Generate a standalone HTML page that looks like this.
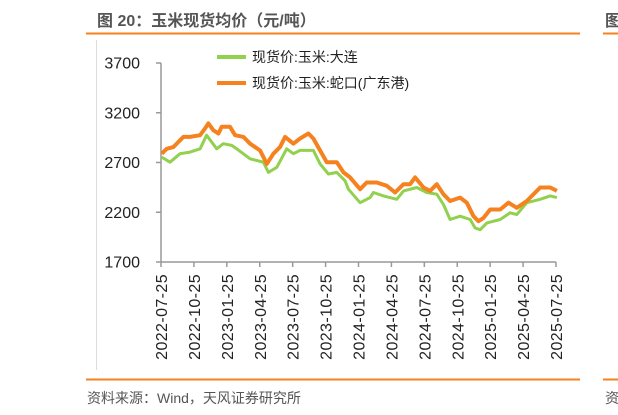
<!DOCTYPE html>
<html><head><meta charset="utf-8">
<style>
body{margin:0;width:618px;height:415px;background:#fff;overflow:hidden;font-family:"Liberation Sans","Noto Sans CJK SC",sans-serif;}
svg{position:absolute;left:0;top:0}
</style></head>
<body>
<svg width="618" height="415">
  <text x="97" y="26" font-size="16" font-weight="bold" fill="#555">图 20：玉米现货均价（元/吨）</text>
  <line x1="86" y1="33.5" x2="580" y2="33.5" stroke="#F5821F" stroke-width="2"/>
  <line x1="603" y1="33.5" x2="618" y2="33.5" stroke="#F5821F" stroke-width="2"/>
  <text x="605" y="26" font-size="16" font-weight="bold" fill="#555">图</text>
  <line x1="96.5" y1="40" x2="96.5" y2="370" stroke="#ddd" stroke-width="1"/>
  <line x1="86" y1="379.5" x2="580" y2="379.5" stroke="#F5821F" stroke-width="2"/>
  <line x1="603" y1="379.5" x2="618" y2="379.5" stroke="#F5821F" stroke-width="2"/>
  <text x="87" y="403" font-size="14" fill="#555">资料来源：Wind，天风证券研究所</text>
  <text x="605" y="403" font-size="14" fill="#555">资</text>
  <g id="plot"></g>
  <g>
    <line x1="217" y1="57" x2="246" y2="57" stroke="#92D050" stroke-width="4"/>
    <text x="252" y="62" font-size="14" fill="#222">现货价:玉米:大连</text>
    <line x1="217" y1="83" x2="246" y2="83" stroke="#F5821F" stroke-width="4"/>
    <text x="252" y="88" font-size="14" fill="#222">现货价:玉米:蛇口(广东港)</text>
  </g>
</svg>
<script>
const xTickLabels=["2022-07-25","2022-10-25","2023-01-25","2023-04-25","2023-07-25","2023-10-25","2024-01-25","2024-04-25","2024-07-25","2024-10-25","2025-01-25","2025-04-25","2025-07-25"];
const yTicks=[1700,2200,2700,3200,3700];
const shekouMonths=[0.06,0.52,1.12,1.58,2.04,2.64,3.56,4.01,4.32,4.77,5.23,5.53,6.29,6.75,7.51,8.12,9.03,9.64,10.24,10.85,11.31,12.07,12.67,13.43,13.89,14.5,15.11,16.02,16.63,17.23,18.15,18.75,19.67,20.58,21.34,22.1,22.7,23.16,23.92,24.53,25.14,25.74,26.35,27.26,27.87,28.48,28.94,29.39,30.0,30.91,31.67,32.43,33.34,34.56,35.47,36.08];
const shekouValues=[2788,2838,2855,2906,2957,2957,2974,3042,3093,3025,2991,3059,3059,2974,2957,2889,2821,2686,2788,2855,2957,2889,2940,2991,2940,2821,2703,2703,2601,2550,2432,2499,2499,2466,2398,2482,2482,2550,2449,2415,2482,2381,2313,2347,2296,2160,2110,2143,2228,2228,2296,2245,2313,2449,2449,2415];
const dalianMonths=[0.06,0.82,1.73,2.64,3.56,4.16,5.08,5.68,6.44,6.9,8.12,9.33,9.79,10.55,11.46,12.07,12.67,13.89,14.5,15.26,16.02,16.78,17.08,18.15,19.06,19.36,20.27,21.49,22.1,23.31,24.22,25.14,25.74,26.35,27.26,28.18,28.63,29.09,29.7,30.91,31.82,32.43,33.34,34.56,35.47,36.08];
const dalianValues=[2754,2703,2788,2805,2838,2974,2838,2889,2872,2838,2737,2703,2601,2652,2838,2788,2822,2822,2686,2584,2601,2516,2432,2296,2347,2398,2364,2330,2415,2449,2398,2381,2279,2127,2160,2127,2042,2025,2093,2127,2194,2177,2296,2330,2364,2347];

const X0=161,X1=556,Y0=262,Y1=63,NS="http://www.w3.org/2000/svg";
const xs=m=>X0+(X1-X0)*m/36;
const ys=v=>Y0-(Y0-Y1)*(v-1700)/2000;
const g=document.getElementById('plot');
function mk(t,a){const e=document.createElementNS(NS,t);for(const k in a)e.setAttribute(k,a[k]);return e;}
let ax=mk('line',{x1:X0,y1:Y1,x2:X0,y2:Y0,stroke:'#999','stroke-width':1.5});


g.appendChild(ax);
let bx=mk('line',{x1:X0,y1:Y0,x2:X1,y2:Y0,stroke:'#999','stroke-width':1.5});


g.appendChild(bx);
yTicks.forEach(v=>{
  const y=ys(v);
  const tk=mk('line',{x1:X0-5,y1:y,x2:X0,y2:y,stroke:'#999','stroke-width':1.5});
  
  
  g.appendChild(tk);
  const t=mk('text',{x:140,y:y+5.5,'text-anchor':'end','font-size':16,fill:'#222'});
  
  
  t.textContent=v;g.appendChild(t);
});
xTickLabels.forEach((s,i)=>{
  const x=xs(i*3);
  const tk=mk('line',{x1:x,y1:Y0,x2:x,y2:Y0+5,stroke:'#999','stroke-width':1.5});
  
  
  g.appendChild(tk);
  const t=mk('text',{x:0,y:0,'text-anchor':'end','font-size':16,'letter-spacing':0.4,fill:'#222',transform:`translate(${x+6},${Y0+12}) rotate(-90)`});
  
  
  t.textContent=s;g.appendChild(t);
});
function line(ms,vs,color,w,name){
  const p=mk('polyline',{points:ms.map((m,i)=>xs(m).toFixed(1)+','+ys(vs[i]).toFixed(1)).join(' '),fill:'none',stroke:color,'stroke-width':w,'stroke-linejoin':'round'});
  
  
  g.appendChild(p);
}
line(dalianMonths,dalianValues,'#92D050',3,'series-dalian');
line(shekouMonths,shekouValues,'#F5821F',4,'series-shekou');
</script>
</body></html>
